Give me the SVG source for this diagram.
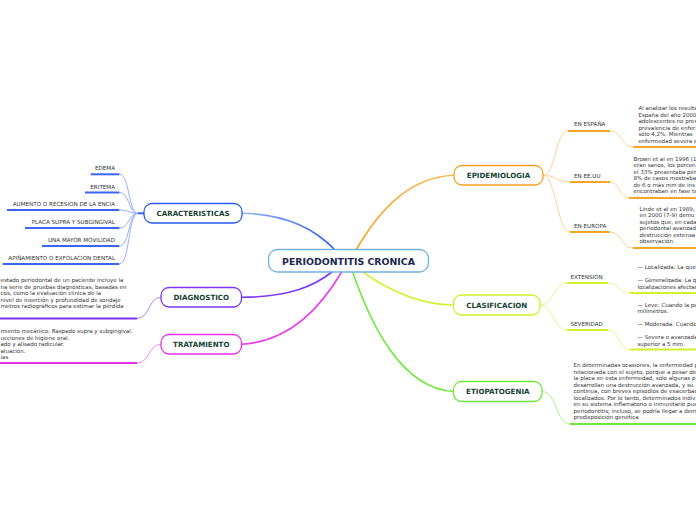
<svg xmlns="http://www.w3.org/2000/svg" width="696" height="520" viewBox="0 0 696 520">
<style>
.t{font-family:"DejaVu Sans",Verdana,sans-serif;font-size:5.5px;fill:#333}
.lbl{font-family:"DejaVu Sans",Verdana,sans-serif;font-size:5.6px;fill:#333}
.nt{font-family:"DejaVu Sans",Verdana,sans-serif;font-size:7.1px;font-weight:bold;fill:#173f33;text-anchor:middle}
.ct{font-family:"DejaVu Sans",Verdana,sans-serif;font-size:9.4px;font-weight:bold;fill:#1a2850;text-anchor:middle}
.nd{fill:#fff;stroke-width:1.3}
.c{fill:none;stroke-width:1.6;stroke-linecap:round}
.s{fill:none;stroke-width:1}
.u{fill:none;stroke-width:2}
</style>
<defs>
<linearGradient id="gCar" gradientUnits="userSpaceOnUse" x1="242" y1="213" x2="335" y2="250"><stop offset="0" stop-color="#9ab6f6"/><stop offset="1" stop-color="#2a5cf0"/></linearGradient>
<linearGradient id="gEpi" gradientUnits="userSpaceOnUse" x1="356" y1="250" x2="454" y2="175"><stop offset="0" stop-color="#f5a020"/><stop offset="1" stop-color="#f9b850"/></linearGradient>
</defs>
<rect width="696" height="520" fill="#fff"/>
<g id="connectors">
  <path class="c" stroke="url(#gCar)" d="M242,213.3 C290,214 318,232 335,250"/>
  <path class="c" stroke="#7b3af0" d="M241.5,297.3 C290,297 314,286 332,272"/>
  <path class="c" stroke="#ec3cec" d="M241.5,344.3 C292,341 322,305 341.7,272"/>
  <path class="c" stroke="url(#gEpi)" d="M356,250 C378,212 408,177 454,175.3"/>
  <path class="c" stroke="#d6f03a" d="M362.7,272 C390,291 420,305 453.5,305"/>
  <path class="c" stroke="#6eea3a" d="M352.7,272 C370,322 400,388 453.5,391.5"/>
  <!-- caracteristicas children -->
  <g stroke="#93b1fb">
    <path class="s" d="M138,213.3 C128,213.3 130,174.3 119.3,174.3"/>
    <path class="s" d="M138,213.3 C128,213.3 130,192.5 119.3,192.5"/>
    <path class="s" d="M138,213.3 C128,213.3 130,210 119.3,210"/>
    <path class="s" d="M138,213.3 C128,213.3 130,228 119.3,228"/>
    <path class="s" d="M138,213.3 C128,213.3 130,246 119.3,246"/>
    <path class="s" d="M138,213.3 C128,213.3 130,264 119.3,264"/>
  </g>
  <g stroke="#3a67ee">
    <path class="u" d="M138,213.3 H144"/>
    <path class="u" d="M90.7,174.3 H119.3"/>
    <path class="u" d="M85,192.5 H119.3"/>
    <path class="u" d="M7,210 H119.3"/>
    <path class="u" d="M25,228 H119.3"/>
    <path class="u" d="M42,246 H119.3"/>
    <path class="u" d="M2.7,264 H119.3"/>
  </g>
  <!-- diagnostico / tratamiento children -->
  <path class="s" stroke="#b08cf5" d="M161,297.3 C148,297.3 150,318.5 137,318.5"/>
  <path class="u" stroke="#7b35ee" d="M0,318.5 H137"/>
  <path class="s" stroke="#f08cf0" d="M161,344.3 C148,344.3 150,363 137,363"/>
  <path class="u" stroke="#e830e8" d="M0,363 H137"/>
  <!-- epidemiologia children -->
  <g stroke="#fcd394">
    <path class="s" d="M543,175.3 C556,175.3 555,131 568,131"/>
    <path class="s" d="M543,175.3 C556,175.3 557,182 570,182"/>
    <path class="s" d="M543,175.3 C556,175.3 557,232 570,232"/>
    <path class="s" d="M610,131 C622,131 621,147 633,147"/>
    <path class="s" d="M610,182 C620,182 619,198 629,198"/>
    <path class="s" d="M610,232 C622,232 621,248 633,248"/>
  </g>
  <g stroke="#f8a62a">
    <path class="u" d="M568,131 H610"/>
    <path class="u" d="M570,182 H610"/>
    <path class="u" d="M570,232 H610"/>
    <path class="u" d="M633,147 H696"/>
    <path class="u" d="M629,198 H696"/>
    <path class="u" d="M633,248 H696"/>
  </g>
  <!-- clasificacion children -->
  <g stroke="#e6f590">
    <path class="s" d="M540,305 C553,305 554,283 566.7,283"/>
    <path class="s" d="M540,305 C553,305 554,330 566.7,330"/>
    <path class="s" d="M608,283 C620,283 618,293 630,293"/>
    <path class="s" d="M608,330 C620,330 618,349.5 630,349.5"/>
  </g>
  <g stroke="#d4f02a">
    <path class="u" d="M566.7,283 H608"/>
    <path class="u" d="M566.7,330 H608"/>
    <path class="u" d="M630,293 H696"/>
    <path class="u" d="M630,349.5 H696"/>
  </g>
  <!-- etiopatogenia child -->
  <path class="s" stroke="#a8f58a" d="M542,391.5 C557,391.5 556,424 570,424"/>
  <path class="u" stroke="#6ee83a" d="M570,424 H696"/>
</g>
<g id="central">
  <rect class="nd" stroke="#72b2e0" x="268.5" y="249.5" width="160" height="22.5" rx="9"/>
  <text class="ct" x="348.5" y="264.6">PERIODONTITIS CRONICA</text>
</g>
<g id="caracteristicas">
  <rect class="nd" stroke="#2a5cf0" x="144" y="203.5" width="98" height="19.5" rx="8"/>
  <text class="nt" x="193" y="215.9">CARACTERISTICAS</text>
</g>
<g id="diagnostico">
  <rect class="nd" stroke="#7b35ee" x="161" y="287.5" width="80.5" height="19.5" rx="8"/>
  <text class="nt" x="201.3" y="299.9">DIAGNOSTICO</text>
</g>
<g id="tratamiento">
  <rect class="nd" stroke="#e830e8" x="161" y="334.5" width="80.5" height="19.5" rx="8"/>
  <text class="nt" x="201.3" y="346.9">TRATAMIENTO</text>
</g>
<g id="epidemiologia">
  <rect class="nd" stroke="#f5a020" x="454" y="165.5" width="89" height="19.5" rx="8"/>
  <text class="nt" x="498.5" y="177.9">EPIDEMIOLOGIA</text>
</g>
<g id="clasificacion">
  <rect class="nd" stroke="#d4f02a" x="453.5" y="295" width="86.5" height="20" rx="8"/>
  <text class="nt" x="496.8" y="307.6">CLASIFICACION</text>
</g>
<g id="etiopatogenia">
  <rect class="nd" stroke="#6ee83a" x="453.5" y="381.5" width="88.5" height="20" rx="8"/>
  <text class="nt" x="497.8" y="394.1">ETIOPATOGENIA</text>
</g>
<g id="caracteristicas-items" class="lbl" text-anchor="end">
  <text class="lbl" x="115" y="170.3" text-anchor="end">EDEMA</text>
  <text class="lbl" x="115" y="188.5" text-anchor="end">ERITEMA</text>
  <text class="lbl" x="115" y="206" text-anchor="end">AUMENTO O RECESION DE LA ENCIA</text>
  <text class="lbl" x="115" y="224" text-anchor="end">PLACA SUPRA Y SUBGINGIVAL</text>
  <text class="lbl" x="115" y="242" text-anchor="end">UNA MAYOR MOVILIDAD</text>
  <text class="lbl" x="115" y="260" text-anchor="end">APIÑAMIENTO O EXFOLACION DENTAL</text>
</g>
<g id="diagnostico-text">
  <text class="t" x="0.5" y="282">estado periodontal de un paciente incluye la</text>
  <text class="t" x="0.5" y="288.5">na serie de pruebas diagnósticas, basadas en</text>
  <text class="t" x="0.5" y="295">cos, como la evaluación clínica de la</text>
  <text class="t" x="0.5" y="301.5">nivel de inserción y profundidad de sondaje</text>
  <text class="t" x="0.5" y="308">metros radiográficos para estimar la pérdida</text>
</g>
<g id="tratamiento-text">
  <text class="t" x="0.5" y="333">miento mecánico: Raspado supra y subgingival.</text>
  <text class="t" x="0.5" y="339.5">ucciones de higiene oral.</text>
  <text class="t" x="0.5" y="346">ado y alisado radicular.</text>
  <text class="t" x="0.5" y="352.5">aluación.</text>
  <text class="t" x="0.5" y="359">ías</text>
</g>
<g id="epidemiologia-items">
  <text class="lbl" x="574" y="126">EN ESPAÑA</text>
  <text class="lbl" x="574" y="177.5">EN EE.UU</text>
  <text class="lbl" x="574" y="228">EN EUROPA</text>
  <text class="t" x="638.5" y="110">Al analizar los resulta<tspan x="638.5" dy="6.5">España del año 2000</tspan><tspan x="638.5" dy="6.5">adolescentes no pres</tspan><tspan x="638.5" dy="6.5">prevalencia de enfer</tspan><tspan x="638.5" dy="6.5">sólo 4,2%. Mientras</tspan><tspan x="638.5" dy="6.5">enfermedad severa e</tspan></text>
  <text class="t" x="633.5" y="160.5">Brown et al en 1996 (1<tspan x="633.5" dy="6.5">eran sanos, los porcen</tspan><tspan x="633.5" dy="6.5">el 33% presentaba pér</tspan><tspan x="633.5" dy="6.5">8% de casos mostraba</tspan><tspan x="633.5" dy="6.5">de 6 o más mm de ins</tspan><tspan x="633.5" dy="6.5">encontraban en fase te</tspan></text>
  <text class="t" x="639.5" y="210.5">Linde et al en 1989,<tspan x="639.5" dy="6.5">en 2000 (7-9) demu</tspan><tspan x="639.5" dy="6.5">sujetos que, en cada</tspan><tspan x="639.5" dy="6.5">periodontal avanzad</tspan><tspan x="639.5" dy="6.5">destrucción extensa</tspan><tspan x="639.5" dy="6.5">observación.</tspan></text>
</g>
<g id="clasificacion-items">
  <text class="lbl" x="570.5" y="279">EXTENSION</text>
  <text class="lbl" x="570.5" y="325.5">SEVERIDAD</text>
  <text class="t" x="637.5" y="269">— Localizada: La que<tspan x="637.5" dy="13">— Generalizada: La q</tspan><tspan x="637.5" dy="6.5">localizaciones afectad</tspan></text>
  <text class="t" x="637.5" y="306.5">— Leve: Cuando la pé<tspan x="637.5" dy="6.5">milímetros.</tspan><tspan x="637.5" dy="13">— Moderada: Cuando</tspan><tspan x="637.5" dy="13">— Severa o avanzada</tspan><tspan x="637.5" dy="6.5">superior a 5 mm.</tspan></text>
</g>
<g id="etiopatogenia-text">
  <text class="t" x="573.5" y="367">En determinadas ocasiones, la enfermedad p<tspan x="573.5" dy="6.5">relacionada con el sujeto, porque a pesar de</tspan><tspan x="573.5" dy="6.5">la placa en esta enfermedad, sólo algunas p</tspan><tspan x="573.5" dy="6.5">desarrollan una destrucción avanzada, y su</tspan><tspan x="573.5" dy="6.5">continua, con breves episodios de exacerbac</tspan><tspan x="573.5" dy="6.5">localizados. Por lo tanto, determinados indiv</tspan><tspan x="573.5" dy="6.5">en su sistema inflamatorio o inmunitario pue</tspan><tspan x="573.5" dy="6.5">periodontitis; incluso, se podría llegar a dem</tspan><tspan x="573.5" dy="6.5">predisposición genética</tspan></text>
</g>
</svg>
